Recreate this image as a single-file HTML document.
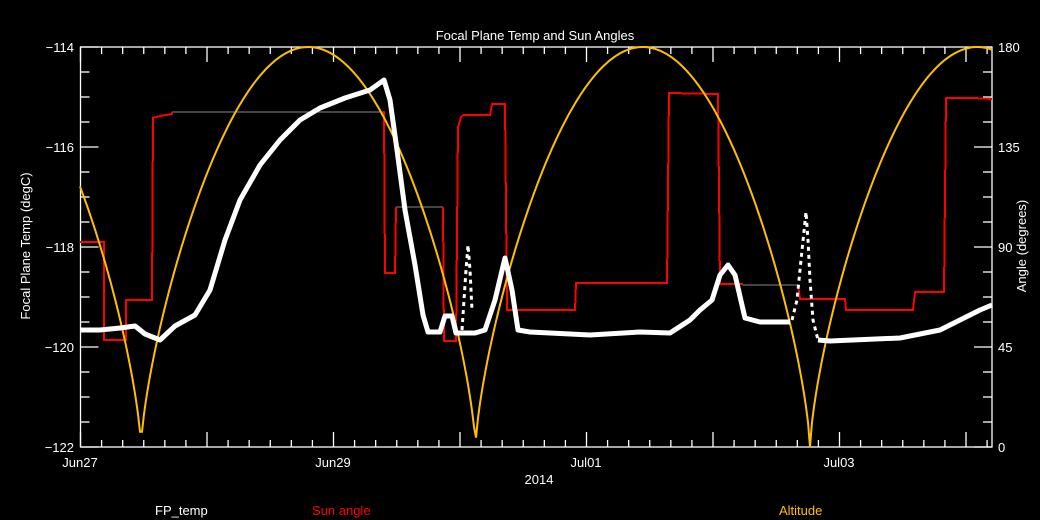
<!DOCTYPE html>
<html><head><meta charset="utf-8"><style>
html,body{margin:0;padding:0;background:#000;}
svg{display:block;}
text{font-family:"Liberation Sans",sans-serif;font-size:13px;fill:#fff;}
</style></head><body>
<svg id="s" width="1040" height="520" xmlns="http://www.w3.org/2000/svg">
<rect width="1040" height="520" fill="#000"/>
<text x="535" y="40" text-anchor="middle" font-size="14">Focal Plane Temp and Sun Angles</text>
<text transform="translate(30,246) rotate(-90)" text-anchor="middle">Focal Plane Temp (degC)</text>
<text transform="translate(1026,246) rotate(-90)" text-anchor="middle">Angle (degrees)</text>
<g id="ax" stroke="#fff" stroke-width="1.3" fill="none">
<rect x="80.5" y="47" width="911.5" height="400"/>
</g>
<g id="lab"></g>
<text x="539" y="484" text-anchor="middle">2014</text>
<text x="155" y="515">FP_temp</text>
<text x="312" y="515" style="fill:#f00">Sun angle</text>
<text x="779" y="515" style="fill:#ffbf00">Altitude</text>
<g fill="none" stroke-width="2" shape-rendering="crispEdges">
<polyline stroke="#888" stroke-width="1" points="172,112 383,112"/>
<polyline stroke="#888" stroke-width="1" points="396,207 443,207"/>
<polyline stroke="#888" stroke-width="1" points="743,285 798,285"/>
<polyline stroke="#f00" points="80,242 104,242 104,340 126,340 126,300 152,300 153,118 160,116 172,114 172,112"/>
<polyline stroke="#f00" points="383,112 384,112 385,273 395,273 396,207"/>
<polyline stroke="#f00" points="443,207 444,341 456,341 458,127 461,117 463,115 490,115 492,104 505,104 507,310 575,310 576,283 667,283 669,93 718,94 720,284 743,284"/>
<polyline stroke="#f00" points="798,285 800,299 845,299 846,310 913,310 915,292 944,292 946,98 973,98 992,99"/>
</g>
<polyline id="alt" fill="none" stroke="#ffbf00" stroke-width="2"/>
<g fill="none" stroke="#fff" stroke-width="5" stroke-linejoin="round">
<polyline points="80,330 100,330 120,328 135,326 145,334 160,340 175,326 195,315 210,290 225,240 240,200 260,165 280,140 300,120 320,108 345,98 370,90 384,80 390,100 397,150 405,210 415,265 423,315 428,332 440,332 445,316 452,316 456,333 475,333 485,330 495,300 505,258 512,290 518,330 530,332 590,335 640,332 670,333 690,320 700,310 712,300 720,275 728,265 735,275 745,318 760,322 790,322"/>
<polyline points="818,340 830,341 900,338 940,330 960,320 980,310 992,305"/>
</g>
<g fill="none" stroke="#fff" stroke-width="3" stroke-dasharray="4 4">
<polyline points="792,320 797,300 801,260 806,212 808,240 810,280 813,320 818,340"/>
<polyline points="462,330 464,300 466,270 468,245 470,270 472,310"/>
</g>
</svg>
<script>
var s=document.getElementById('ax'),l=document.getElementById('lab'),NS="http://www.w3.org/2000/svg";
function ln(x1,y1,x2,y2){var e=document.createElementNS(NS,'line');e.setAttribute('x1',x1);e.setAttribute('y1',y1);e.setAttribute('x2',x2);e.setAttribute('y2',y2);s.appendChild(e);}
function tx(x,y,t,a){var e=document.createElementNS(NS,'text');e.setAttribute('x',x);e.setAttribute('y',y);e.setAttribute('text-anchor',a);e.textContent=t;l.appendChild(e);}
var dx=253/12;
for(var i=0;i*dx<=912;i++){var x=80.5+i*dx,m=i%6==0,L=m?15:7;ln(x,447,x,447-L);ln(x,47,x,47+L);}
['Jun27','Jun29','Jul01','Jul03'].forEach(function(t,i){tx(80+i*253,467,t,'middle');});
for(var j=0;j<=16;j++){var y=47+j*25,m=j%4==0,L=m?18:9;ln(80.5,y,80.5+L,y);ln(992,y,992-L,y);}
['-114','-116','-118','-120','-122'].forEach(function(t,i){tx(74,52+i*100,t.replace('-','\u2212'),'end');});
['180','135','90','45','0'].forEach(function(t,i){tx(998,52+i*100,t,'start');});
var p=[];for(var x=80;x<=992;x+=2){var v=Math.abs(Math.sin(Math.PI*(x-141)/334.5));p.push(x+','+(447-400*Math.pow(v,0.7)).toFixed(1));}
document.getElementById('alt').setAttribute('points',p.join(' '));
</script>
</body></html>
